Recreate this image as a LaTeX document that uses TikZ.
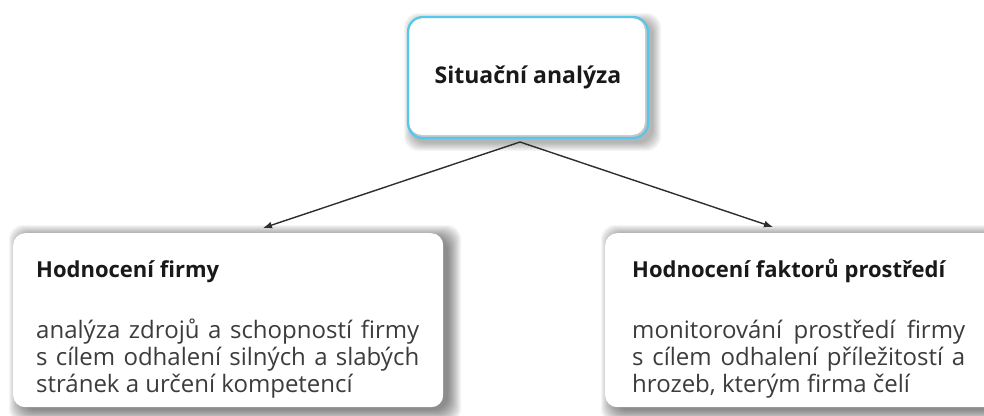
\documentclass[tikz,border=0pt]{standalone}
\usepackage{fontspec}
\setmainfont{Open Sans}
\usetikzlibrary{arrows.meta}
\definecolor{cyanb}{HTML}{55C6EC}
\definecolor{bodyc}{HTML}{3C3C3C}
\definecolor{arrowc}{HTML}{2E2E2E}
\tikzset{
 shadowlayer/.style={fill=black, opacity=0.04, rounded corners=14pt},
 mainbox/.style={draw=cyanb, line width=2.2pt, rounded corners=15pt, minimum width=240pt, minimum height=121pt, inner sep=0pt, font=\fontsize{23}{27}\selectfont\bfseries, text=black!90},
 subbox/.style={fill=white, rounded corners=12pt, inner sep=0pt},
 head/.style={anchor=base west, inner sep=0pt, font=\fontsize{22}{26}\selectfont\bfseries, text=black!90},
 bodyline/.style={anchor=base west, inner sep=0pt, font=\fontsize{24}{27}\selectfont, text=bodyc},
 conn/.style={draw=arrowc, line width=1.4pt, -{Latex[length=9pt,width=7pt]}}
}
\begin{document}
\begin{tikzpicture}[x=1pt,y=-1pt]
\useasboundingbox (0,0) rectangle (984,415);
\clip (0,0) rectangle (984,415);
\fill[white] (0,0) rectangle (984,415);
% soft shadows
\foreach \i in {1,...,14}{
 \fill[shadowlayer] (13+10-\i, 233+6-\i) rectangle (443+4+\i, 407+2+\i);
 \fill[shadowlayer] (605+10-\i, 233+6-\i) rectangle (1010+\i, 407+2+\i);
}
\foreach \i in {1,...,9}{
 \fill[shadowlayer, opacity=0.035] (408+5-\i,17+5-\i) rectangle (648+4+\i,138+4+\i);
}
% top box inner shading
\fill[gray!45, rounded corners=15pt] (408,17) rectangle (648,138);
\fill[white, rounded corners=13pt] (409,18) rectangle (645,135);
% boxes
\node[mainbox] (top) at (528,77.5) {Situační analýza};
\node[subbox, minimum width=430pt, minimum height=174pt, anchor=north west] (left) at (13,233) {};
\node[subbox, minimum width=420pt, minimum height=174pt, anchor=north west] (right) at (605,233) {};
% texts
\node[head] (lh) at (36,277) {Hodnocení firmy};
\node[bodyline] (l1) at (36,338) {\makebox[383pt][s]{analýza zdrojů a schopností firmy}};
\node[bodyline] (l2) at (36,365) {\makebox[383pt][s]{s cílem odhalení silných a slabých}};
\node[bodyline] (l3) at (36,392) {stránek a určení kompetencí};
\node[head] (rh) at (632,277) {Hodnocení faktorů prostředí};
\node[bodyline] (r1) at (632,338) {\makebox[333pt][s]{monitorování prostředí firmy}};
\node[bodyline] (r2) at (632,365) {\makebox[333pt][s]{s cílem odhalení příležitostí a}};
\node[bodyline] (r3) at (632,392) {hrozeb, kterým firma čelí};
% connectors
\coordinate (apex) at (520,142);
\coordinate (ltip) at (263,228);
\coordinate (rtip) at (773,227);
\draw[conn] (apex) -- (ltip);
\draw[conn] (apex) -- (rtip);
\end{tikzpicture}
\end{document}
